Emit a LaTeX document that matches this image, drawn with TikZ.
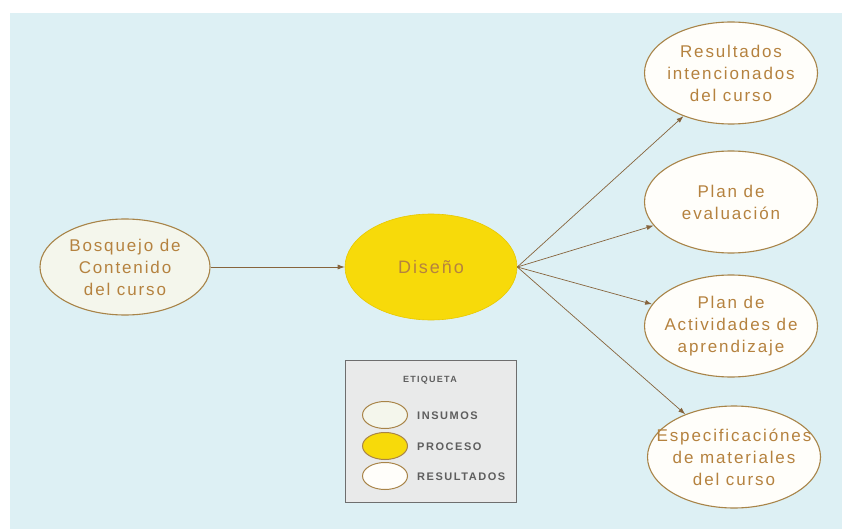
\documentclass[tikz,border=0pt]{standalone}
\usepackage{fontspec}
\setmainfont{Liberation Sans}
\newfontfamily\lblfont[LetterSpace=11]{Liberation Sans}
\newfontfamily\keyfont[LetterSpace=14]{Liberation Sans}
\usetikzlibrary{shapes.geometric,arrows.meta}
\definecolor{bgblue}{HTML}{DDF0F4}
\definecolor{txtbrown}{HTML}{B5823F}
\definecolor{rimbrown}{HTML}{A88448}
\definecolor{linkbrown}{HTML}{86643C}
\definecolor{inputfill}{HTML}{F4F6EC}
\definecolor{procfill}{HTML}{F7DA0A}
\definecolor{procrim}{HTML}{E8C800}
\definecolor{outfill}{HTML}{FFFEFA}
\definecolor{keyfill}{HTML}{E9EAEA}
\definecolor{keyrim}{HTML}{6E6E6E}
\definecolor{keytext}{HTML}{5E5E5E}
\tikzset{
  blobtext/.style={text=txtbrown, align=center, inner sep=0pt,
    font=\lblfont\fontsize{17}{22}\selectfont},
  blob/.style={ellipse, draw=rimbrown, line width=1.1pt, inner sep=0pt},
  inputblob/.style={blob, fill=inputfill, minimum width=170pt, minimum height=96pt},
  procblob/.style={blob, fill=procfill, draw=procrim, line width=0.6pt,
    minimum width=172pt, minimum height=106pt},
  outblob/.style={blob, fill=outfill, minimum width=173pt, minimum height=102pt},
  link/.style={draw=linkbrown, line width=0.7pt, -{Latex[length=7pt,width=5pt]}},
  keyblob/.style={ellipse, draw=rimbrown, line width=1pt, inner sep=0pt,
    minimum width=45pt, minimum height=27pt},
  keylabel/.style={anchor=west, text=keytext, inner sep=0pt,
    font=\keyfont\bfseries\fontsize{11}{12}\selectfont},
}
\begin{document}
\begin{tikzpicture}[x=1pt, y=-1pt]
  % page and backdrop
  \useasboundingbox (0,0) rectangle (842,529);
  \fill[white] (0,0) rectangle (842,529);
  \fill[bgblue] (10,13) rectangle (842,529);

  % main nodes (fixed-size ellipses, text set as a centred label)
  \node[inputblob, label={[blobtext]center:Bosquejo de\\Contenido\\del curso}] (bos) at (125,267) {};
  \node[procblob, label={[blobtext, font=\lblfont\fontsize{18}{22}\selectfont]center:Dise\~no}] (dis) at (431,267) {};
  \node[outblob, label={[blobtext]center:Resultados\\intencionados\\del curso}] (r1) at (731,73) {};
  \node[outblob, label={[blobtext]center:Plan de\\evaluaci\'on}] (r2) at (731,202) {};
  \node[outblob, label={[blobtext]center:Plan de\\Actividades de\\aprendizaje}] (r3) at (731,326) {};
  \node[outblob, label={[blobtext]center:Especificaci\'ones\\de materiales\\del curso}] (r4) at (734,457) {};

  % connectors
  \coordinate (hub) at (dis.east);
  \draw[link] (bos) -- (dis);
  \draw[link] (hub) -- (r1);
  \draw[link] (hub) -- (r2);
  \draw[link] (hub) -- (r3);
  \draw[link] (hub) -- (r4);

  % legend
  \node[draw=keyrim, fill=keyfill, line width=1pt, minimum width=171pt,
        minimum height=142pt, inner sep=0pt] (key) at (430.5,431) {};
  \node[text=keytext, font=\keyfont\bfseries\fontsize{9}{10}\selectfont] (keytitle) at (430,380) {ETIQUETA};
  \node[keyblob, fill=inputfill] (k1) at (385,415) {};
  \node[keyblob, fill=procfill] (k2) at (385,446) {};
  \node[keyblob, fill=outfill] (k3) at (385,476) {};
  \node[keylabel] (k1t) at (417,416) {INSUMOS};
  \node[keylabel] (k2t) at (417,447) {PROCESO};
  \node[keylabel] (k3t) at (417,477) {RESULTADOS};
\end{tikzpicture}
\end{document}
